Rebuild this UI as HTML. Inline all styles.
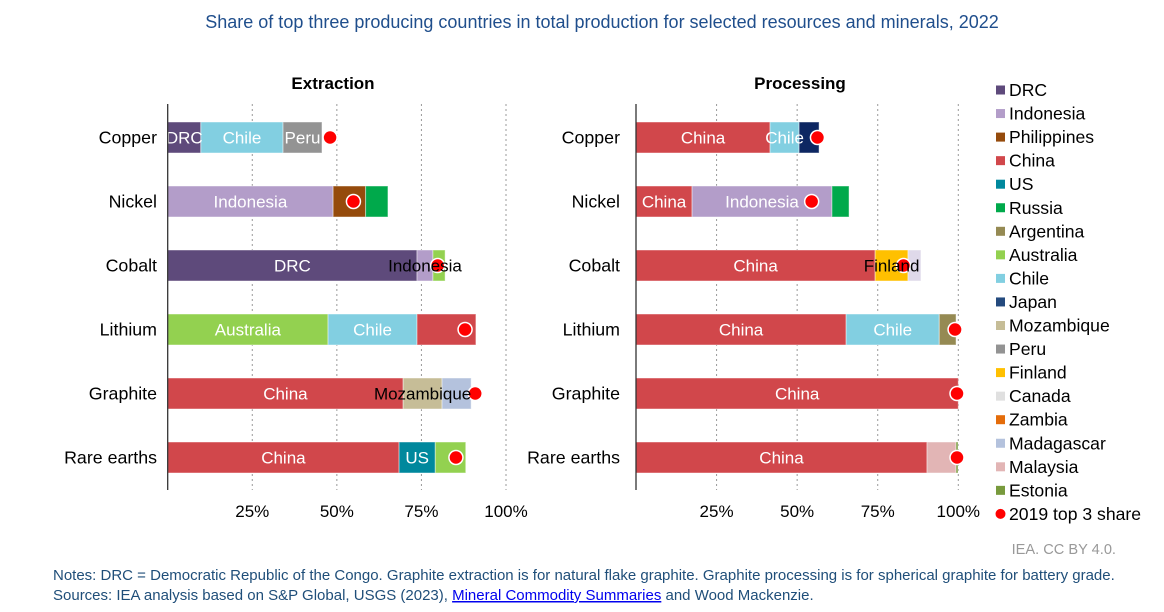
<!DOCTYPE html>
<html><head><meta charset="utf-8"><style>
html,body{margin:0;padding:0;background:#fff;}
svg{display:block;font-family:"Liberation Sans",sans-serif;}
</style></head><body>
<svg id="chart" width="1164" height="612" viewBox="0 0 1164 612" xmlns="http://www.w3.org/2000/svg">
<text x="602" y="28" text-anchor="middle" font-size="18" fill="#1f4e8c">Share of top three producing countries in total production for selected resources and minerals, 2022</text>
<text x="333" y="89" text-anchor="middle" font-size="17" font-weight="bold" fill="#000">Extraction</text>
<text x="800" y="89" text-anchor="middle" font-size="17" font-weight="bold" fill="#000">Processing</text>
<g id="panels"></g>
<g id="legend"></g>
<text x="1116" y="554" text-anchor="end" font-size="14.6" fill="#999">IEA. CC BY 4.0.</text>
<text x="53" y="580" font-size="15" fill="#1f4e79">Notes: DRC = Democratic Republic of the Congo. Graphite extraction is for natural flake graphite. Graphite processing is for spherical graphite for battery grade.</text>
<text x="53" y="600" font-size="15" fill="#1f4e79">Sources: IEA analysis based on S&amp;P Global, USGS (2023), <tspan fill="#0000ee" text-decoration="underline">Mineral Commodity Summaries</tspan> and Wood Mackenzie.</text>
</svg>
<script>
const minerals = ["Copper","Nickel","Cobalt","Lithium","Graphite","Rare earths"];
const ticks = [25,50,75,100];
const tickLabels = ["25%","50%","75%","100%"];
const extCountries = [["DRC","Chile","Peru"],["Indonesia","Philippines","Russia"],["DRC","Indonesia","Australia"],["Australia","Chile","China"],["China","Mozambique","Madagascar"],["China","US","Australia"]];
const extValues = [[9.8,24.3,11.5],[48.9,9.6,6.6],[73.7,4.7,3.6],[47.4,26.3,17.4],[69.6,11.5,8.6],[68.4,10.7,9.0]];
const extLabels = [["w","w","w"],["w","",""],["w","b",""],["w","w",""],["w","b",""],["w","w",""]];
const ext2019 = [48.0,54.9,79.8,87.9,90.9,85.2];
const procCountries = [["China","Chile","Japan"],["China","Indonesia","Russia"],["China","Finland","Canada"],["China","Chile","Argentina"],["China","",""],["China","Malaysia","Estonia"]];
const procValues = [[41.6,9.0,6.2],[17.4,43.4,5.3],[74.2,10.2,4.0],[65.2,28.9,5.2],[100,0,0],[90.3,9.0,0.6]];
const procLabels = [["w","w",""],["w","w",""],["w","b",""],["w","w",""],["w","",""],["w","",""]];
const proc2019 = [56.3,54.5,83.0,99.0,99.6,99.6];
const legendNames = ["DRC","Indonesia","Philippines","China","US","Russia","Argentina","Australia","Chile","Japan","Mozambique","Peru","Finland","Canada","Zambia","Madagascar","Malaysia","Estonia"];
const colors = {DRC:"#5e4a7b",Indonesia:"#b39dc9",Philippines:"#954b0c",China:"#d1474b",US:"#00889d",Russia:"#00a94b",Argentina:"#958a53",Australia:"#93d150",Chile:"#82cfe1",Japan:"#0d2762",Mozambique:"#c6bd97",Peru:"#939393",Finland:"#ffc000",Canada:"#dfd9ea",Zambia:"#e46c0a",Madagascar:"#b4c2dd",Malaysia:"#e2b5b5",Estonia:"#789a3d"};
const legendColors = Object.assign({},colors,{Japan:"#244a7e",Canada:"#e0e0e0"});

const NS="http://www.w3.org/2000/svg";
function mk(tag,attrs,parent){const e=document.createElementNS(NS,tag);for(const k in attrs)e.setAttribute(k,attrs[k]);parent.appendChild(e);return e;}
const panels=document.getElementById('panels');
const rowY = i => 137.5 + i*64;
function drawPanel(name,x0,x100,labelX,countries,values,labels,dots){
  const g=mk('g',{},panels);
  
  
  const xs = v => x0 + (x100-x0)*v/100;
  ticks.forEach((t,i)=>{
    const l=mk('line',{x1:xs(t),x2:xs(t),y1:104,y2:490,stroke:"#999","stroke-dasharray":"2,3","stroke-width":1},g);
    
    
    const tx=mk('text',{x:xs(t),y:517,"text-anchor":"middle","font-size":17,fill:"#000"},g);
    tx.textContent=tickLabels[i];
    
    
  });
  minerals.forEach((m,i)=>{
    const y=rowY(i);
    const cl=mk('text',{x:labelX,y:y+6,"text-anchor":"end","font-size":17.8,fill:"#000"},g);
    cl.textContent=m;
    
    
    let acc=0;const texts=[];
    countries[i].forEach((c,j)=>{
      const v=values[i][j]; if(!c||v<=0) return;
      const r=mk('rect',{x:xs(acc),y:y-15.5,width:xs(acc+v)-xs(acc),height:31,fill:colors[c],stroke:"rgba(255,255,255,0.45)","stroke-width":1},g);
      
      
      if(labels[i][j]) texts.push([c,xs(acc+v/2),labels[i][j]]);
      acc+=v;
    });
    const d=mk('circle',{cx:xs(dots[i]),cy:y,r:7,fill:"#ff0000",stroke:"#fff","stroke-width":1.5},g);
    
    
    texts.forEach(t=>{
      const tx=mk('text',{x:t[1],y:y+6,"text-anchor":"middle","font-size":17,fill:t[2]=="w"?"#fff":"#000"},g);
      tx.textContent=t[0];
      
      
    });
  });
  const ax=mk('line',{x1:x0,x2:x0,y1:104,y2:490,stroke:"#333","stroke-width":1.3},g);
  
  
}
drawPanel('extraction',167.7,506,157,extCountries,extValues,extLabels,ext2019);
drawPanel('processing',636,958.3,620,procCountries,procValues,procLabels,proc2019);
const lg=document.getElementById('legend');
legendNames.forEach((n,i)=>{
  const y=90+i*23.55;
  const r=mk('rect',{x:996,y:y-4.5,width:9,height:9,fill:legendColors[n]},lg);
  
  
  const t=mk('text',{x:1009,y:y+6,"font-size":17.6,fill:"#000"},lg);
  t.textContent=n;
  
  
});
{
  const y=90+18*23.55;
  const c=mk('circle',{cx:1000.5,cy:y,r:5,fill:"#ff0000"},lg);
  
  
  const t=mk('text',{x:1009,y:y+6,"font-size":17.6,fill:"#000"},lg);
  t.textContent="2019 top 3 share";
  
  
}
</script>
</body></html>
